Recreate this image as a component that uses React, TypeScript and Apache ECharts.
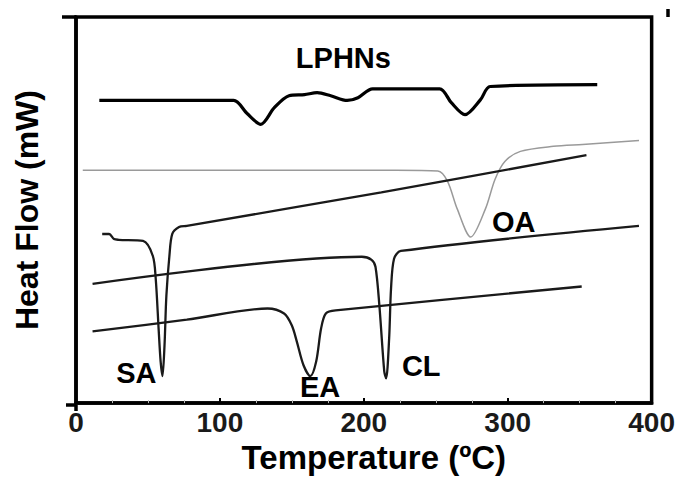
import React, { useEffect, useRef } from "react";
import * as echarts from "echarts";

const xTicks = [0, 100, 200, 300, 400];

const lphnsT = [16.2, 109.5, 118.9, 128.4, 137.8, 148.0, 158.8, 167.6, 177.0, 188.5, 195.9, 206.1, 252.7, 260.8, 270.3, 281.1, 287.8, 362.2];
const lphnsV = [78.4, 78.4, 75.0, 72.2, 76.5, 79.6, 79.9, 80.4, 79.6, 78.4, 79.1, 81.4, 81.4, 77.8, 74.7, 78.6, 82.0, 82.5];

const oaT = [4.7, 222.3, 251.4, 258.1, 264.9, 274.3, 284.5, 291.2, 298.0, 308.8, 331.8, 352.0, 391.2];
const oaV = [60.3, 60.3, 60.1, 57.5, 50.3, 43.0, 50.3, 58.0, 62.6, 65.2, 66.5, 67.0, 68.0];

const saT = [18.2, 23.0, 26.4, 29.7, 46.6, 53.4, 55.4, 57.4, 58.8, 60.1, 61.5, 62.8, 64.9, 66.9, 71.6, 77.0, 212.2, 354.7];
const saV = [43.8, 43.8, 42.5, 42.3, 42.0, 38.1, 32.2, 19.3, 10.8, 7.0, 14.9, 27.8, 38.1, 43.8, 45.6, 45.9, 54.6, 64.2];

const eaT = [11.5, 77.0, 133.1, 144.6, 150.0, 153.4, 158.1, 162.8, 166.9, 170.3, 173.6, 180.4, 351.4];
const eaV = [18.6, 21.6, 24.5, 23.2, 20.1, 16.0, 9.8, 7.0, 10.8, 19.3, 23.2, 24.0, 30.2];

const clT = [11.5, 198.6, 205.4, 208.1, 210.8, 214.2, 215.5, 217.6, 218.9, 221.0, 225.7, 391.2];
const clV = [30.9, 37.9, 37.1, 35.3, 25.3, 8.2, 6.4, 16.8, 29.6, 37.4, 39.4, 45.9];

const labelNames = ["LPHNs", "SA", "EA", "CL", "OA"];
const labelT = [185.8, 41.9, 169.6, 239.9, 304.1];
const labelV = [89.4, 7.7, 4.1, 9.7, 46.9];

const zip = (t: number[], v: number[]) => t.map((x, i) => [x, v[i]]);

const FONT = "Liberation Sans, Arial, sans-serif";

export default function App() {
  const ref = useRef<HTMLDivElement>(null);
  useEffect(() => {
    if (!ref.current) return;
    const chart = echarts.init(ref.current, null, { renderer: "svg" });
    const lineSeries = (name: string, t: number[], v: number[], color: string, width: number) => ({
      name,
      type: "line",
      data: zip(t, v),
      showSymbol: false,
      symbol: "none",
      smooth: 0.3,
      lineStyle: { color, width },
      z: 3,
    });
    const frameStyle = { stroke: "#000", lineWidth: 3.5 };
    chart.setOption({
      animation: false,
      backgroundColor: "#ffffff",
      grid: {
        left: 76,
        right: 10,
        top: 17,
        bottom: 74,
        show: true,
        borderColor: "#000",
        borderWidth: 3.5,
        backgroundColor: "transparent",
      },
      graphic: [
        { type: "line", shape: { x1: 62, y1: 17, x2: 76, y2: 17 }, style: frameStyle },
        { type: "line", shape: { x1: 66, y1: 405, x2: 76, y2: 405 }, style: frameStyle },
        { type: "line", shape: { x1: 76, y1: 405, x2: 76, y2: 411 }, style: frameStyle },
        { type: "line", shape: { x1: 668, y1: 9, x2: 668, y2: 17 }, style: frameStyle },
      ],
      xAxis: {
        type: "value",
        min: xTicks[0],
        max: xTicks[xTicks.length - 1],
        interval: 100,
        name: "Temperature (ºC)",
        nameLocation: "middle",
        nameGap: 36,
        nameTextStyle: { fontFamily: FONT, fontSize: 33, fontWeight: "bold", color: "#000", padding: [0, 0, 0, 20] },
        axisLine: { show: true, lineStyle: { color: "#000", width: 3.5 } },
        axisTick: { show: true, inside: true, length: 5, lineStyle: { color: "#000", width: 2 } },
        minorTick: { show: true, splitNumber: 4, length: 3, lineStyle: { color: "#bbb", width: 1 } },
        splitLine: { show: false },
        axisLabel: { fontFamily: FONT, fontSize: 28, fontWeight: "bold", color: "#1a1a1a", margin: 5 },
      },
      yAxis: {
        type: "value",
        min: 0,
        max: 100,
        name: "Heat Flow (mW)",
        nameLocation: "middle",
        nameRotate: 90,
        nameGap: 33,
        nameTextStyle: { fontFamily: FONT, fontSize: 32, fontWeight: "bold", color: "#000" },
        axisLine: { show: true, lineStyle: { color: "#000", width: 3.5 } },
        axisTick: { show: false },
        axisLabel: { show: false },
        splitLine: { show: false },
      },
      series: [
        lineSeries("LPHNs", lphnsT, lphnsV, "#000", 3.2),
        lineSeries("OA", oaT, oaV, "#9a9a9a", 1.5),
        lineSeries("SA", saT, saV, "#1a1a1a", 2.3),
        lineSeries("EA", eaT, eaV, "#1a1a1a", 2.3),
        lineSeries("CL", clT, clV, "#1a1a1a", 2.3),
        {
          type: "scatter",
          symbolSize: 0,
          itemStyle: { color: "transparent", opacity: 1 },
          data: labelNames.map((n, i) => ({ value: [labelT[i], labelV[i]], name: n })),
          label: {
            show: true,
            position: "inside",
            formatter: (p: any) => p.name,
            fontFamily: FONT,
            fontSize: 29,
            fontWeight: "bold",
            color: "#000",
            opacity: 1,
          },
          z: 5,
        },
      ],
    });
    return () => chart.dispose();
  }, []);
  return <div ref={ref} style={{ position: "fixed", left: 0, top: 0, width: 678, height: 479 }} />;
}
